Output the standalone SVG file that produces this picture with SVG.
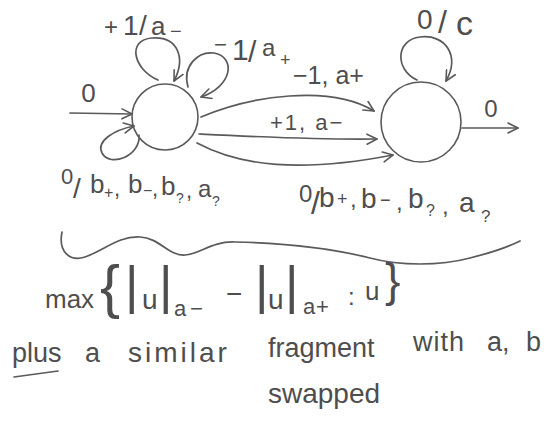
<svg xmlns="http://www.w3.org/2000/svg" width="548" height="427" viewBox="0 0 548 427">
<style>
  .ln{fill:none;stroke:#5a5a5a;stroke-width:1.7;stroke-linecap:round;stroke-linejoin:round}
  .st{fill:none;stroke:#5a5a5a;stroke-width:1.6}
  text{font-family:"Liberation Sans","DejaVu Sans",sans-serif;fill:#4e4e4e}
</style>
<defs>
  <marker id="ah" viewBox="0 0 12 12" refX="11" refY="6" markerWidth="12" markerHeight="12" orient="auto" markerUnits="userSpaceOnUse">
    <path d="M1,1 L11,6 L1,11" fill="none" stroke="#5a5a5a" stroke-width="1.6" stroke-linecap="round" stroke-linejoin="round"/>
  </marker>
</defs>
<rect width="548" height="427" fill="#ffffff"/>

<g id="q0"><circle class="st" cx="165" cy="117" r="33"/></g>
<g id="q1"><circle class="st" cx="421" cy="122" r="40"/></g>

<g id="connectors">
  <path class="ln" d="M70,113 L132,114" marker-end="url(#ah)"/>
  <path class="ln" d="M139,135 C141,156 110,168 102,153 C96,141 114,130 134,126" marker-end="url(#ah)"/>
  <path class="ln" d="M158,80 C134,70 126,40 152,38 C178,36 186,58 174,81" marker-end="url(#ah)"/>
  <path class="ln" d="M188,87 C182,66 198,51 214,53 C236,57 233,86 201,97" marker-end="url(#ah)"/>
  <path class="ln" d="M201,117 C250,96 330,84 374,111" marker-end="url(#ah)"/>
  <path class="ln" d="M199,134 C260,137 320,140 377,139" marker-end="url(#ah)"/>
  <path class="ln" d="M197,143 C240,166 300,173 393,155" marker-end="url(#ah)"/>
  <path class="ln" d="M417,80 C395,70 395,40 420,37 C446,34 460,56 446,81" marker-end="url(#ah)"/>
  <path class="ln" d="M462,128 L518,128" marker-end="url(#ah)"/>
</g>

<g id="labels">
  <text x="88.5" y="102" font-size="26" text-anchor="middle">0</text>
  <text x="491" y="117" font-size="24" text-anchor="middle">0</text>
  <text x="104" y="35" font-size="24">+<tspan x="123" font-size="28">1</tspan><tspan x="139" font-size="28">/</tspan><tspan x="151" font-size="26">a</tspan><tspan x="170" y="38" font-size="20">−</tspan></text>
  <text x="214" y="52" font-size="22">−<tspan x="232" y="60" font-size="30">1</tspan><tspan x="248" y="62" font-size="30">/</tspan><tspan x="262" y="56" font-size="24">a</tspan><tspan x="280" y="66" font-size="18">+</tspan></text>
  <text x="293" y="84" font-size="25">−1, a+</text>
  <text x="270" y="130" font-size="22" letter-spacing="2">+1, a−</text>
  <text x="417" y="29" font-size="28">0<tspan x="438" y="33" font-size="32">/</tspan><tspan x="456" y="35" font-size="34">c</tspan></text>
  <text x="61" y="184" font-size="22">0<tspan x="73" y="198" font-size="28">/</tspan><tspan x="90" y="193" font-size="26">b</tspan><tspan x="104" y="198" font-size="16">+</tspan><tspan x="114" y="196" font-size="22">,</tspan><tspan x="128" y="193" font-size="26">b</tspan><tspan x="143" y="196" font-size="16">−</tspan><tspan x="152" y="196" font-size="22">,</tspan><tspan x="161" y="195" font-size="26">b</tspan><tspan x="176" y="203" font-size="14">?</tspan><tspan x="186" y="198" font-size="22">,</tspan><tspan x="198" y="197" font-size="24">a</tspan><tspan x="212" y="206" font-size="14">?</tspan></text>
  <text x="299" y="202" font-size="24">0<tspan x="311" y="214" font-size="32">/</tspan><tspan x="319" y="207" font-size="28">b</tspan><tspan x="337" y="205" font-size="18">+</tspan><tspan x="350" y="207" font-size="24">,</tspan><tspan x="361" y="208" font-size="28">b</tspan><tspan x="380" y="206" font-size="18">−</tspan><tspan x="396" y="210" font-size="24">,</tspan><tspan x="408" y="208" font-size="28">b</tspan><tspan x="426" y="216" font-size="16">?</tspan><tspan x="442" y="214" font-size="24">,</tspan><tspan x="459" y="212" font-size="28">a</tspan><tspan x="481" y="222" font-size="17">?</tspan></text>
</g>

<g id="brace">
  <path class="ln" d="M62,232 C58,252 70,262 85,257 C105,250 118,236 140,237 C160,238 168,256 185,255 C200,254 212,241 235,242 C280,243 330,248 370,258 C400,266 440,266 470,258 C490,253 508,247 520,241"/>
</g>

<g id="notes">
  <text x="45" y="308" font-size="26">max<tspan x="100" y="307" font-size="60">{</tspan><tspan x="125" y="303" font-size="52">|</tspan><tspan x="142" y="309" font-size="28">u</tspan><tspan x="159" y="303" font-size="52">|</tspan><tspan x="174" y="316" font-size="22">a</tspan><tspan x="190" y="316" font-size="22">−</tspan><tspan x="226" y="303" font-size="28">−</tspan><tspan x="255" y="303" font-size="52">|</tspan><tspan x="268" y="309" font-size="28">u</tspan><tspan x="285" y="303" font-size="52">|</tspan><tspan x="303" y="314" font-size="22">a</tspan><tspan x="316" y="314" font-size="22">+</tspan><tspan x="348" y="305" font-size="24">:</tspan><tspan x="365" y="300" font-size="26">u</tspan><tspan x="385" y="296" font-size="46">}</tspan></text>
  <text x="12" y="362" font-size="27">plus<tspan x="85">a</tspan><tspan x="128" font-size="28" letter-spacing="3">similar</tspan><tspan x="268" y="357">fragment</tspan><tspan x="413" y="351" letter-spacing="1">with</tspan><tspan x="487" y="351">a,</tspan><tspan x="526" y="351">b</tspan></text>
  <path class="ln" d="M14,377 L58,371"/>
  <text x="268" y="403" font-size="28">swapped</text>
</g>
</svg>
